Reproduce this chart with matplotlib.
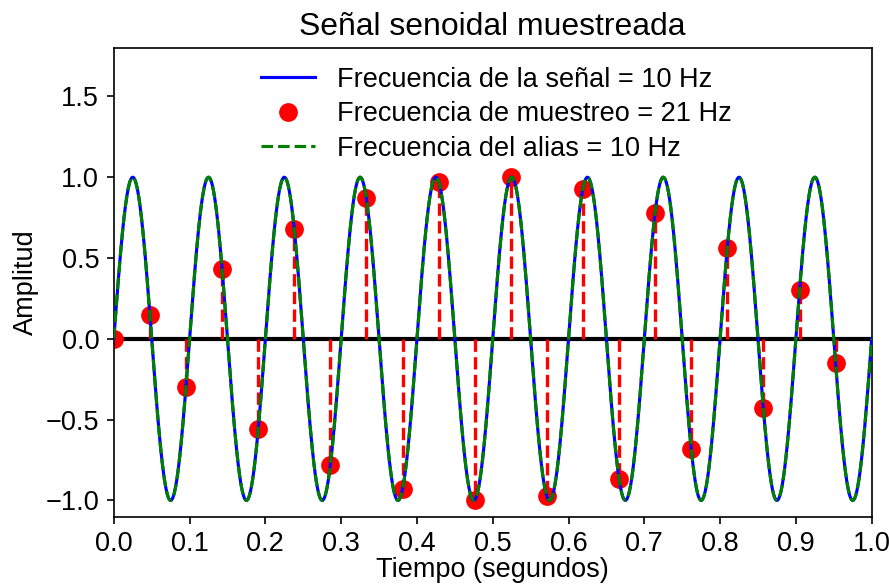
import numpy as np
import matplotlib
matplotlib.use("Agg")
import matplotlib.pyplot as plt

plt.rcParams['font.family'] = ['Liberation Sans', 'DejaVu Sans']

# Parameters
signal_freq = 10      # Hz
sample_freq = 21      # Hz
alias_freq = 10       # Hz

sample_times = [0.0, 0.0476, 0.0952, 0.1429, 0.1905, 0.2381, 0.2857, 0.3333,
                0.3810, 0.4286, 0.4762, 0.5238, 0.5714, 0.6190, 0.6667, 0.7143,
                0.7619, 0.8095, 0.8571, 0.9048, 0.9524]
sample_values = [0.0, 0.15, -0.30, 0.43, -0.56, 0.68, -0.78, 0.87, -0.93, 0.97,
                 -1.0, 1.0, -0.97, 0.93, -0.87, 0.78, -0.68, 0.56, -0.43, 0.30, -0.15]

xticks = [0.0, 0.1, 0.2, 0.3, 0.4, 0.5, 0.6, 0.7, 0.8, 0.9, 1.0]
yticks = [-1.0, -0.5, 0.0, 0.5, 1.0, 1.5]

t = np.linspace(0, 1, 2000)
signal = np.sin(2 * np.pi * signal_freq * t)
alias = np.sin(2 * np.pi * alias_freq * t)

dpi = 150
fig = plt.figure(figsize=(889 / dpi, 585 / dpi), dpi=dpi)
ax = fig.add_axes([0.128, 0.117, 0.8525, 0.801])

ax.axhline(0, color='black', lw=2, zorder=1)
ax.vlines(sample_times, 0, sample_values, colors='red', linestyles='dashed', lw=1.6, zorder=1.5)
ax.plot(sample_times, sample_values, 'o', color='red', markersize=8, zorder=2,
        label=f'Frecuencia de muestreo = {sample_freq} Hz')
ax.plot(t, signal, color='blue', lw=1.5, zorder=3,
        label=f'Frecuencia de la señal = {signal_freq} Hz')
ax.plot(t, alias, '--', color='green', lw=1.5, zorder=4,
        label=f'Frecuencia del alias = {alias_freq} Hz')

handles, labels = ax.get_legend_handles_labels()
order = [1, 0, 2]
ax.legend([handles[i] for i in order], [labels[i] for i in order],
          loc='upper center', frameon=False, fontsize=13, numpoints=1,
          labelspacing=0.31, borderaxespad=0.3, handlelength=2.0,
          bbox_to_anchor=(0.505, 1.0))

ax.set_xlim(0, 1)
ax.set_ylim(-1.1, 1.8)
ax.set_xticks(xticks)
ax.set_yticks(yticks)
ax.tick_params(labelsize=13)
ax.set_title('Señal senoidal muestreada', fontsize=15.3)
ax.set_xlabel('Tiempo (segundos)', fontsize=13, labelpad=0)
ax.set_ylabel('Amplitud', fontsize=13, labelpad=3)

fig.savefig('out.png', dpi=dpi)
